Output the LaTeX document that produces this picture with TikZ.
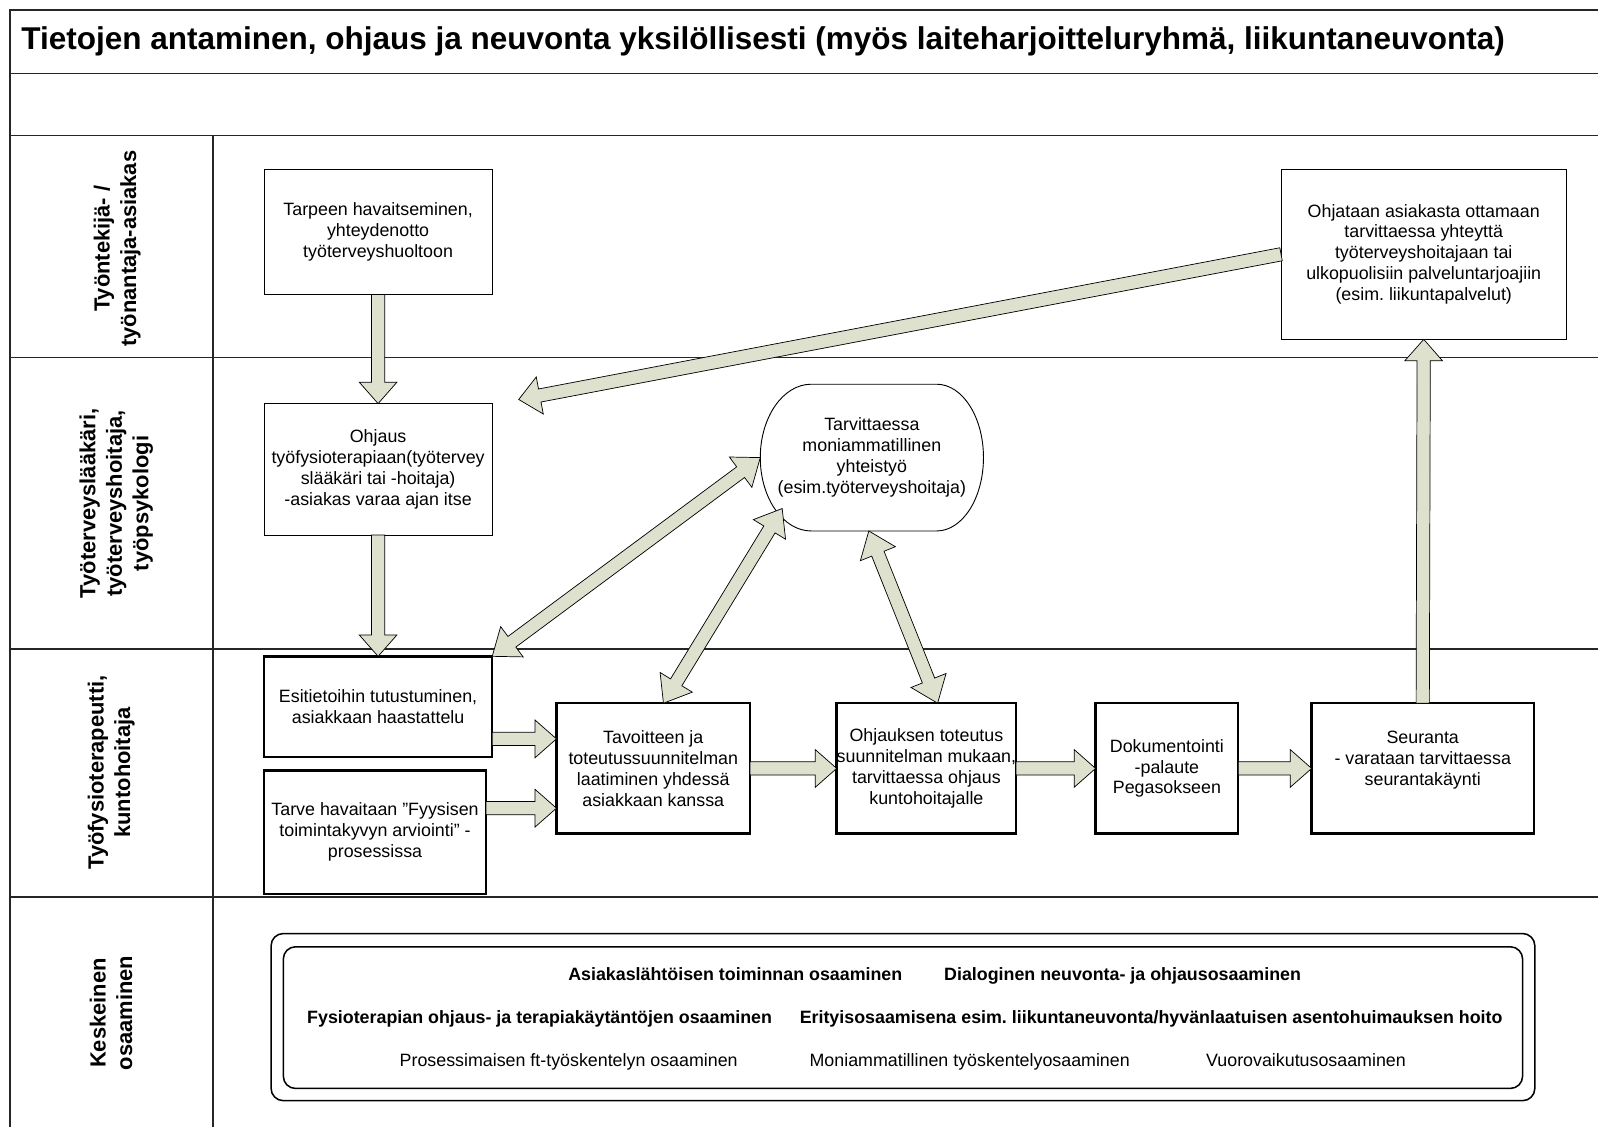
\documentclass[tikz,border=0pt]{standalone}
\usepackage{fontspec}
\setmainfont{Liberation Sans}
\usetikzlibrary{calc}
\frenchspacing
\definecolor{arrfill}{RGB}{221,225,205}
\newcommand\dgboxfont{\fontsize{17.5}{20.5}\selectfont}
\newcommand\dglanefont{\fontsize{21.5}{26}\selectfont\bfseries}
\newcommand\dgbotfont{\fontsize{17.5}{20.5}\selectfont}
\newcommand\bsw{6.5pt}
\newcommand\bhw{18.5pt}
\newcommand\bhl{21pt}
\newcommand\dsw{6.5pt}
\newcommand\dhw{18.5pt}
\newcommand\dhl{24pt}
\newcommand\blockarrow[2]{%
  \path (#1) coordinate (ba-s);
  \path (#2) coordinate (ba-t);
  \path ($(ba-t)!\bhl!(ba-s)$) coordinate (ba-c);
  \draw[blockarr] ($(ba-s)!\bsw!90:(ba-t)$) -- ($(ba-c)!\bsw!90:(ba-t)$) -- ($(ba-c)!\bhw!90:(ba-t)$) -- (ba-t) -- ($(ba-c)!\bhw!-90:(ba-t)$) -- ($(ba-c)!\bsw!-90:(ba-t)$) -- ($(ba-s)!\bsw!-90:(ba-t)$) -- cycle;
}
\newcommand\dblarrow[2]{%
  \path (#1) coordinate (ba-s);
  \path (#2) coordinate (ba-t);
  \path ($(ba-t)!\dhl!(ba-s)$) coordinate (ba-c);
  \path ($(ba-s)!\dhl!(ba-t)$) coordinate (ba-d);
  \draw[blockarr] (ba-s) -- ($(ba-d)!\dhw!90:(ba-t)$) -- ($(ba-d)!\dsw!90:(ba-t)$) -- ($(ba-c)!\dsw!90:(ba-t)$) -- ($(ba-c)!\dhw!90:(ba-t)$) -- (ba-t) -- ($(ba-c)!\dhw!-90:(ba-t)$) -- ($(ba-c)!\dsw!-90:(ba-t)$) -- ($(ba-d)!\dsw!-90:(ba-t)$) -- ($(ba-d)!\dhw!-90:(ba-t)$) -- cycle;
}
\begin{document}
\begin{tikzpicture}[x=1pt,y=-1pt,
  every node/.style={inner sep=0pt, outer sep=0pt},
  frameline/.style={draw=black!85, line width=1.4pt},
  thinbox/.style={draw=black, line width=0.9pt, fill=white, align=center, font=\dgboxfont},
  thickbox/.style={draw=black, line width=2.4pt, fill=white, align=center, font=\dgboxfont},
  blockarr/.style={draw=black, line width=0.7pt, fill=arrfill, line join=miter},
  lanelabel/.style={rotate=90, align=center, font=\dglanefont},
  bottext/.style={font=\dgbotfont, anchor=base},
  botbold/.style={font=\dgbotfont\bfseries, anchor=base},
  roundframe/.style={draw=black, line width=1.5pt, rounded corners=12pt}]
\useasboundingbox (0,0) rectangle (1568,1105);
\clip (0,0) rectangle (1568,1105);
\fill[white] (0,0) rectangle (1568,1105);
% frame
\draw[frameline] (1570,10) -- (10,10) -- (10,1110);
\draw[frameline] (10,72) -- (1570,72);
\draw[frameline] (10,133) -- (1570,133);
\draw[frameline] (209,133) -- (209,1110);
\draw[frameline] (10,351) -- (1570,351);
\draw[frameline] (10,637) -- (1570,637);
\draw[frameline] (10,880) -- (1570,880);
% title
\node[anchor=west, font=\fontsize{30.9}{36}\selectfont\bfseries] (title) at (21,41) {Tietojen antaminen, ohjaus ja neuvonta yksilöllisesti (myös laiteharjoitteluryhmä, liikuntaneuvonta)};
% lane labels
\node[lanelabel] (lane1) at (115,244) {Työntekijä- /\\työnantaja-asiakas};
\node[lanelabel] (lane2) at (114,494) {Työterveyslääkäri,\\työterveyshoitaja,\\työpsykologi};
\node[lanelabel] (lane3) at (109,758) {Työfysioterapeutti,\\kuntohoitaja};
\node[lanelabel] (lane4) at (109,994) {Keskeinen\\osaaminen};
% boxes
\node[thinbox, minimum width=224pt, minimum height=123pt] (tarpeen) at (371,227.5) {Tarpeen havaitseminen,\\yhteydenotto\\työterveyshuoltoon};
\node[thinbox, minimum width=280pt, minimum height=167pt] (ohjataan) at (1397,249.5) {Ohjataan asiakasta ottamaan\\tarvittaessa yhteyttä\\työterveyshoitajaan tai\\ulkopuolisiin palveluntarjoajiin\\(esim. liikuntapalvelut)};
\node[thinbox, minimum width=224pt, minimum height=129pt] (ohjaus) at (371,460.5) {Ohjaus\\työfysioterapiaan(työtervey\\slääkäri tai -hoitaja)\\-asiakas varaa ajan itse};
\node[align=center, font=\dgboxfont, minimum width=219pt, minimum height=144pt] (moni) at (855.5,449) {Tarvittaessa\\moniammatillinen\\yhteistyö\\(esim.työterveyshoitaja)};
\draw[line width=0.9pt] ([xshift=50pt]moni.north west) -- ([xshift=-46pt]moni.north east) arc[start angle=90, end angle=-90, x radius=46pt, y radius=72pt] -- ([xshift=50pt]moni.south west) arc[start angle=270, end angle=90, x radius=50pt, y radius=72pt] -- cycle;
\node[thickbox, minimum width=224pt, minimum height=99pt] (esiti) at (371,693.5) {Esitietoihin tutustuminen,\\asiakkaan haastattelu};
\node[thickbox, minimum width=218pt, minimum height=121pt] (tarve) at (368,816.5) {Tarve havaitaan ”Fyysisen\\toimintakyvyn arviointi” -\\prosessissa};
\node[thickbox, minimum width=190pt, minimum height=128pt] (tavoite) at (641,754) {Tavoitteen ja\\toteutussuunnitelman\\laatiminen yhdessä\\asiakkaan kanssa};
\node[thickbox, minimum width=168pt, minimum height=128pt] (toteutus) at (909,754) {Ohjauksen toteutus\\suunnitelman mukaan,\\tarvittaessa ohjaus\\kuntohoitajalle};
\node[thickbox, minimum width=140pt, minimum height=128pt] (dok) at (1145,754) {Dokumentointi\\-palaute\\Pegasokseen};
\node[thickbox, minimum width=218pt, minimum height=128pt] (seur) at (1396,754) {Seuranta\\- varataan tarvittaessa\\seurantakäynti\\\mbox{}};
% arrows
\blockarrow{tarpeen.south}{ohjaus.north}
\blockarrow{ohjaus.south}{esiti.north}
\coordinate (t3) at ([xshift=26pt,yshift=4pt]ohjaus.north east);
\blockarrow{ohjataan.west}{t3}
\dblarrow{esiti.north east}{moni.west}
\coordinate (m2) at ($(moni.center)+(-88,50)$);
\dblarrow{[xshift=10pt]tavoite.north}{m2}
\dblarrow{[xshift=11pt]toteutus.north}{[xshift=-3pt]moni.south}
\coordinate (a1) at ([yshift=29pt]tavoite.west);
\coordinate (a2) at ([yshift=-39pt]tavoite.west);
\blockarrow{esiti.east |- a1}{a1}
\blockarrow{tarve.east |- a2}{a2}
\blockarrow{tavoite.east}{toteutus.west}
\blockarrow{toteutus.east}{dok.west}
\blockarrow{dok.east}{seur.west}
\blockarrow{seur.north}{ohjataan.south}
% competence frame
\draw[roundframe] (266,916) rectangle (1506,1080);
\draw[roundframe] (278,929) rectangle (1494,1068);
\node[botbold] (k1) at (721.5,962) {Asiakaslähtöisen toiminnan osaaminen};
\node[botbold] (k2) at (1101.5,962) {Dialoginen neuvonta- ja ohjausosaaminen};
\node[botbold] (k3) at (529.5,1004) {Fysioterapian ohjaus- ja terapiakäytäntöjen osaaminen};
\node[botbold] (k4) at (1129.5,1004) {Erityisosaamisena esim. liikuntaneuvonta/hyvänlaatuisen asentohuimauksen hoito};
\node[bottext] (k5) at (558,1046) {Prosessimaisen ft-työskentelyn osaaminen};
\node[bottext] (k6) at (951.5,1046) {Moniammatillinen työskentelyosaaminen};
\node[bottext] (k7) at (1281.5,1046) {Vuorovaikutusosaaminen};
\end{tikzpicture}
\end{document}
